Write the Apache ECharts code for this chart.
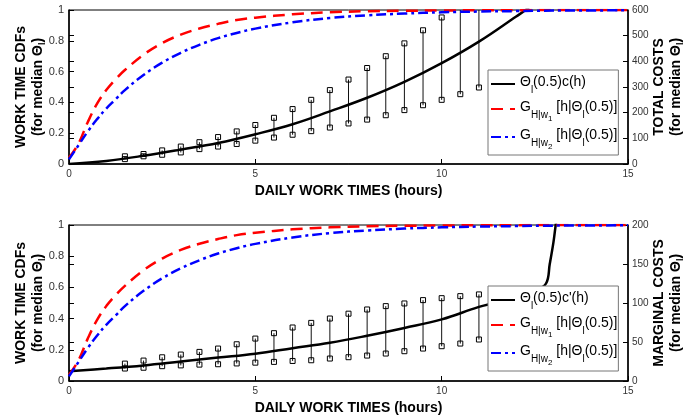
<!DOCTYPE html>
<html>
<head>
<meta charset="utf-8">
<script src="https://cdn.jsdelivr.net/npm/echarts@6/dist/echarts.min.js"></script>
<style>
  html, body { margin: 0; padding: 0; background: #fff; }
  #chart { width: 686px; height: 420px; }
</style>
</head>
<body>
<div id="chart"></div>
<script>
// Work-time CDFs for two wage levels (hours grid)
const cdfHours = [0, 0.25, 0.5, 0.75, 1, 1.25, 1.5, 2, 2.5, 3, 3.5, 4, 4.5, 5, 6, 7, 8, 9, 10, 11, 12, 13, 15];
const cdfW1 = [0.04, 0.13, 0.27, 0.39, 0.48, 0.55, 0.61, 0.71, 0.785, 0.84, 0.88, 0.91, 0.935, 0.95, 0.972, 0.985, 0.992, 0.995, 0.997, 0.998, 0.999, 1, 1];
const cdfW2 = [0.03, 0.12, 0.21, 0.29, 0.36, 0.42, 0.48, 0.578, 0.658, 0.722, 0.774, 0.817, 0.851, 0.879, 0.92, 0.948, 0.965, 0.977, 0.985, 0.99, 0.993, 0.996, 0.998];

// Total cost curve Θl(0.5)c(h)
const totalHours = [0, 1, 2, 3, 4, 5, 6, 7, 8, 9, 10, 11, 12, 12.25, 13];
const totalCost = [0, 12, 32, 56, 82, 116, 155, 205, 258, 320, 393, 477, 575, 600, 690];

// Marginal cost curve Θl(0.5)c'(h)
const marginalHours = [0, 1, 2, 3, 4, 5, 6, 7, 8, 9, 10, 11, 11.5, 12, 12.5, 12.8, 12.9, 13, 13.06, 13.15];
const marginalCost = [12.5, 16, 20, 25, 30, 35, 42, 49, 58, 68, 79, 95, 101, 108, 116, 125, 150, 178, 200, 230];

// Interval bars (low / high) at half-hour steps
const barHours = [1.5, 2, 2.5, 3, 3.5, 4, 4.5, 5, 5.5, 6, 6.5, 7, 7.5, 8, 8.5, 9, 9.5, 10, 10.5, 11];
const totalLow = [19, 30, 36, 45, 58, 68, 78, 91, 103, 114, 128, 142, 158, 173, 190, 210, 229, 250, 272, 298];
const totalHigh = [30, 39, 53, 68, 85, 105, 127, 152, 180, 214, 250, 288, 329, 374, 420, 470, 521, 571, 625, 680];
const marginalLow = [16, 17, 19, 20, 21, 21.5, 22.5, 23.5, 24.5, 25.7, 26.6, 28.8, 30.5, 32.6, 35.2, 38.2, 41.6, 44.6, 48, 53.2];
const marginalHigh = [22.3, 26.2, 30.4, 33.9, 37.3, 41.6, 47.1, 54.4, 61.3, 68.6, 74.5, 80.1, 86.3, 91.7, 96, 99.4, 103.7, 106.2, 108.8, 111];

// Axis ticks
const xTicks = { min: 0, max: 15, interval: 5 };
const cdfTicks = { min: 0, max: 1, interval: 0.2 };
const totalTicks = { min: 0, max: 600, interval: 100 };
const marginalTicks = { min: 0, max: 200, interval: 50 };

const FONT = "'Liberation Sans', Arial, Helvetica, sans-serif";
const pairs = (xs, ys) => xs.map((x, i) => [x, ys[i]]);
const triples = (xs, lo, hi) => xs.map((x, i) => [x, lo[i], hi[i]]);

function renderBar(params, api) {
  const x = api.value(0);
  const pLo = api.coord([x, api.value(1)]);
  const pHi = api.coord([x, api.value(2)]);
  const s = 5;
  return {
    type: 'group',
    children: [
      { type: 'line', shape: { x1: pLo[0], y1: pLo[1], x2: pHi[0], y2: pHi[1] }, style: { stroke: '#111', lineWidth: 1 } },
      { type: 'rect', shape: { x: pLo[0] - s / 2, y: pLo[1] - s / 2, width: s, height: s }, style: { fill: 'none', stroke: '#000', lineWidth: 1 } },
      { type: 'rect', shape: { x: pHi[0] - s / 2, y: pHi[1] - s / 2, width: s, height: s }, style: { fill: 'none', stroke: '#000', lineWidth: 1 } }
    ]
  };
}

const nameRich = {
  b: { fontFamily: FONT, fontSize: 14, fontWeight: 'bold', color: '#000', lineHeight: 17 },
  bs: { fontFamily: FONT, fontSize: 9, fontWeight: 'bold', color: '#000', lineHeight: 8, verticalAlign: 'bottom' }
};

function xAxis(grid) {
  return {
    gridIndex: grid, type: 'value', ...xTicks,
    axisLine: { lineStyle: { color: '#000', width: 1.5 } },
    axisTick: { inside: true, length: 5, lineStyle: { color: '#000' } },
    splitLine: { show: false },
    axisLabel: { fontFamily: FONT, fontSize: 10, color: '#333', margin: 5 },
    name: 'DAILY WORK TIMES (hours)', nameLocation: 'middle', nameGap: 20,
    nameTextStyle: { fontFamily: FONT, fontSize: 14, fontWeight: 'bold', color: '#000' }
  };
}

function leftAxis(grid) {
  return {
    gridIndex: grid, type: 'value', position: 'left', ...cdfTicks,
    axisLine: { show: true, lineStyle: { color: '#000', width: 1.5 } },
    axisTick: { show: true, inside: true, length: 5, lineStyle: { color: '#000' } },
    splitLine: { show: false },
    axisLabel: { fontFamily: FONT, fontSize: 11, color: '#333', margin: 5 },
    name: '{b|WORK TIME CDFs}\n{b|(for median Θ}{bs|l}{b|)}',
    nameLocation: 'middle', nameRotate: 90, nameGap: 22, nameMoveOverlap: false,
    nameTextStyle: { rich: nameRich }
  };
}

function mirrorAxis(grid, ticks) {
  return {
    gridIndex: grid, type: 'value', position: 'left', ...ticks,
    axisLine: { show: false },
    axisTick: { show: true, inside: true, length: 5, lineStyle: { color: '#000' } },
    axisLabel: { show: false },
    splitLine: { show: false }
  };
}

function rightAxis(grid, ticks, title) {
  return {
    gridIndex: grid, type: 'value', position: 'right', ...ticks,
    axisLine: { show: true, lineStyle: { color: '#000', width: 1.5 } },
    axisTick: { show: true, inside: true, length: 5, lineStyle: { color: '#000' } },
    splitLine: { show: false },
    axisLabel: { fontFamily: FONT, fontSize: 10, color: '#333', margin: 4 },
    name: '{b|' + title + '}\n{b|(for median Θ}{bs|l}{b|)}',
    nameLocation: 'middle', nameRotate: 90, nameGap: 23, nameMoveOverlap: false,
    nameTextStyle: { rich: nameRich }
  };
}

// Legend labels with sub- and sub-subscripts, all top-aligned with padding offsets
const legendRich = {
  t: { fontFamily: FONT, fontSize: 14, color: '#000', lineHeight: 18, verticalAlign: 'top' },
  s: { fontFamily: FONT, fontSize: 10, color: '#000', lineHeight: 10, padding: [10, 0, 0, 0], verticalAlign: 'top' },
  ss: { fontFamily: FONT, fontSize: 8, color: '#000', lineHeight: 8, padding: [15, 0, 0, 0], verticalAlign: 'top' }
};
const legendText = {
  'cost': '{t|Θ}{s|l}{t|(0.5)c(h)}',
  'marg': "{t|Θ}{s|l}{t|(0.5)c'(h)}",
  'G1': '{t|G}{s|H|w}{ss|1}{t| [h|Θ}{s|l}{t|(0.5)]}',
  'G2': '{t|G}{s|H|w}{ss|2}{t| [h|Θ}{s|l}{t|(0.5)]}'
};

function legend(top, first) {
  return {
    data: [first, 'G1', 'G2'],
    orient: 'vertical', left: 488, top: top,
    itemWidth: 24, itemHeight: 12, itemGap: 5, itemTextGap: 5,
    padding: [5, 1, 4, 2],
    backgroundColor: '#fff', borderColor: '#777', borderWidth: 1,
    selectedMode: false,
    itemStyle: { opacity: 0 },
    formatter: name => legendText[name],
    textStyle: { rich: legendRich }
  };
}

const blackLine = { color: '#000', width: 2.5, type: 'solid' };
const redLine = { color: '#ff0000', width: 2.5, type: [12, 7] };
const blueLine = { color: '#0000ff', width: 2.5, type: [10, 4, 3, 4] };

function panelSeries(grid, yCdf, yCost, costName, costX, costY, lo, hi) {
  return [
    { type: 'custom', xAxisIndex: grid, yAxisIndex: yCost, clip: true, renderItem: renderBar,
      data: triples(barHours, lo, hi), encode: { x: 0, y: [1, 2] }, z: 2 },
    { name: costName, type: 'line', xAxisIndex: grid, yAxisIndex: yCost, symbol: 'none',
      smooth: 0.4, clip: true, data: pairs(costX, costY), lineStyle: blackLine, itemStyle: { color: '#000' }, z: 3 },
    { name: 'G1', type: 'line', xAxisIndex: grid, yAxisIndex: yCdf, symbol: 'none',
      smooth: 0.4, clip: true, data: pairs(cdfHours, cdfW1), lineStyle: redLine, itemStyle: { color: '#ff0000' }, z: 3 },
    { name: 'G2', type: 'line', xAxisIndex: grid, yAxisIndex: yCdf, symbol: 'none',
      smooth: 0.4, clip: true, data: pairs(cdfHours, cdfW2), lineStyle: blueLine, itemStyle: { color: '#0000ff' }, z: 3 }
  ];
}

const chart = echarts.init(document.getElementById('chart'), null, { renderer: 'canvas' });
chart.setOption({
  animation: false,
  backgroundColor: '#fff',
  grid: [
    { left: 69, top: 10, width: 559, height: 154, outerBoundsMode: 'none', containLabel: false,
      show: true, borderColor: '#000', borderWidth: 1, backgroundColor: 'transparent' },
    { left: 69, top: 225, width: 559, height: 156, outerBoundsMode: 'none', containLabel: false,
      show: true, borderColor: '#000', borderWidth: 1, backgroundColor: 'transparent' }
  ],
  xAxis: [xAxis(0), xAxis(1)],
  yAxis: [
    leftAxis(0), mirrorAxis(0, totalTicks), rightAxis(0, totalTicks, 'TOTAL COSTS'),
    leftAxis(1), mirrorAxis(1, marginalTicks), rightAxis(1, marginalTicks, 'MARGINAL COSTS')
  ],
  legend: [legend(70, 'cost'), legend(286, 'marg')],
  series: [
    ...panelSeries(0, 0, 2, 'cost', totalHours, totalCost, totalLow, totalHigh),
    ...panelSeries(1, 3, 5, 'marg', marginalHours, marginalCost, marginalLow, marginalHigh)
  ]
});
</script>
</body>
</html>
